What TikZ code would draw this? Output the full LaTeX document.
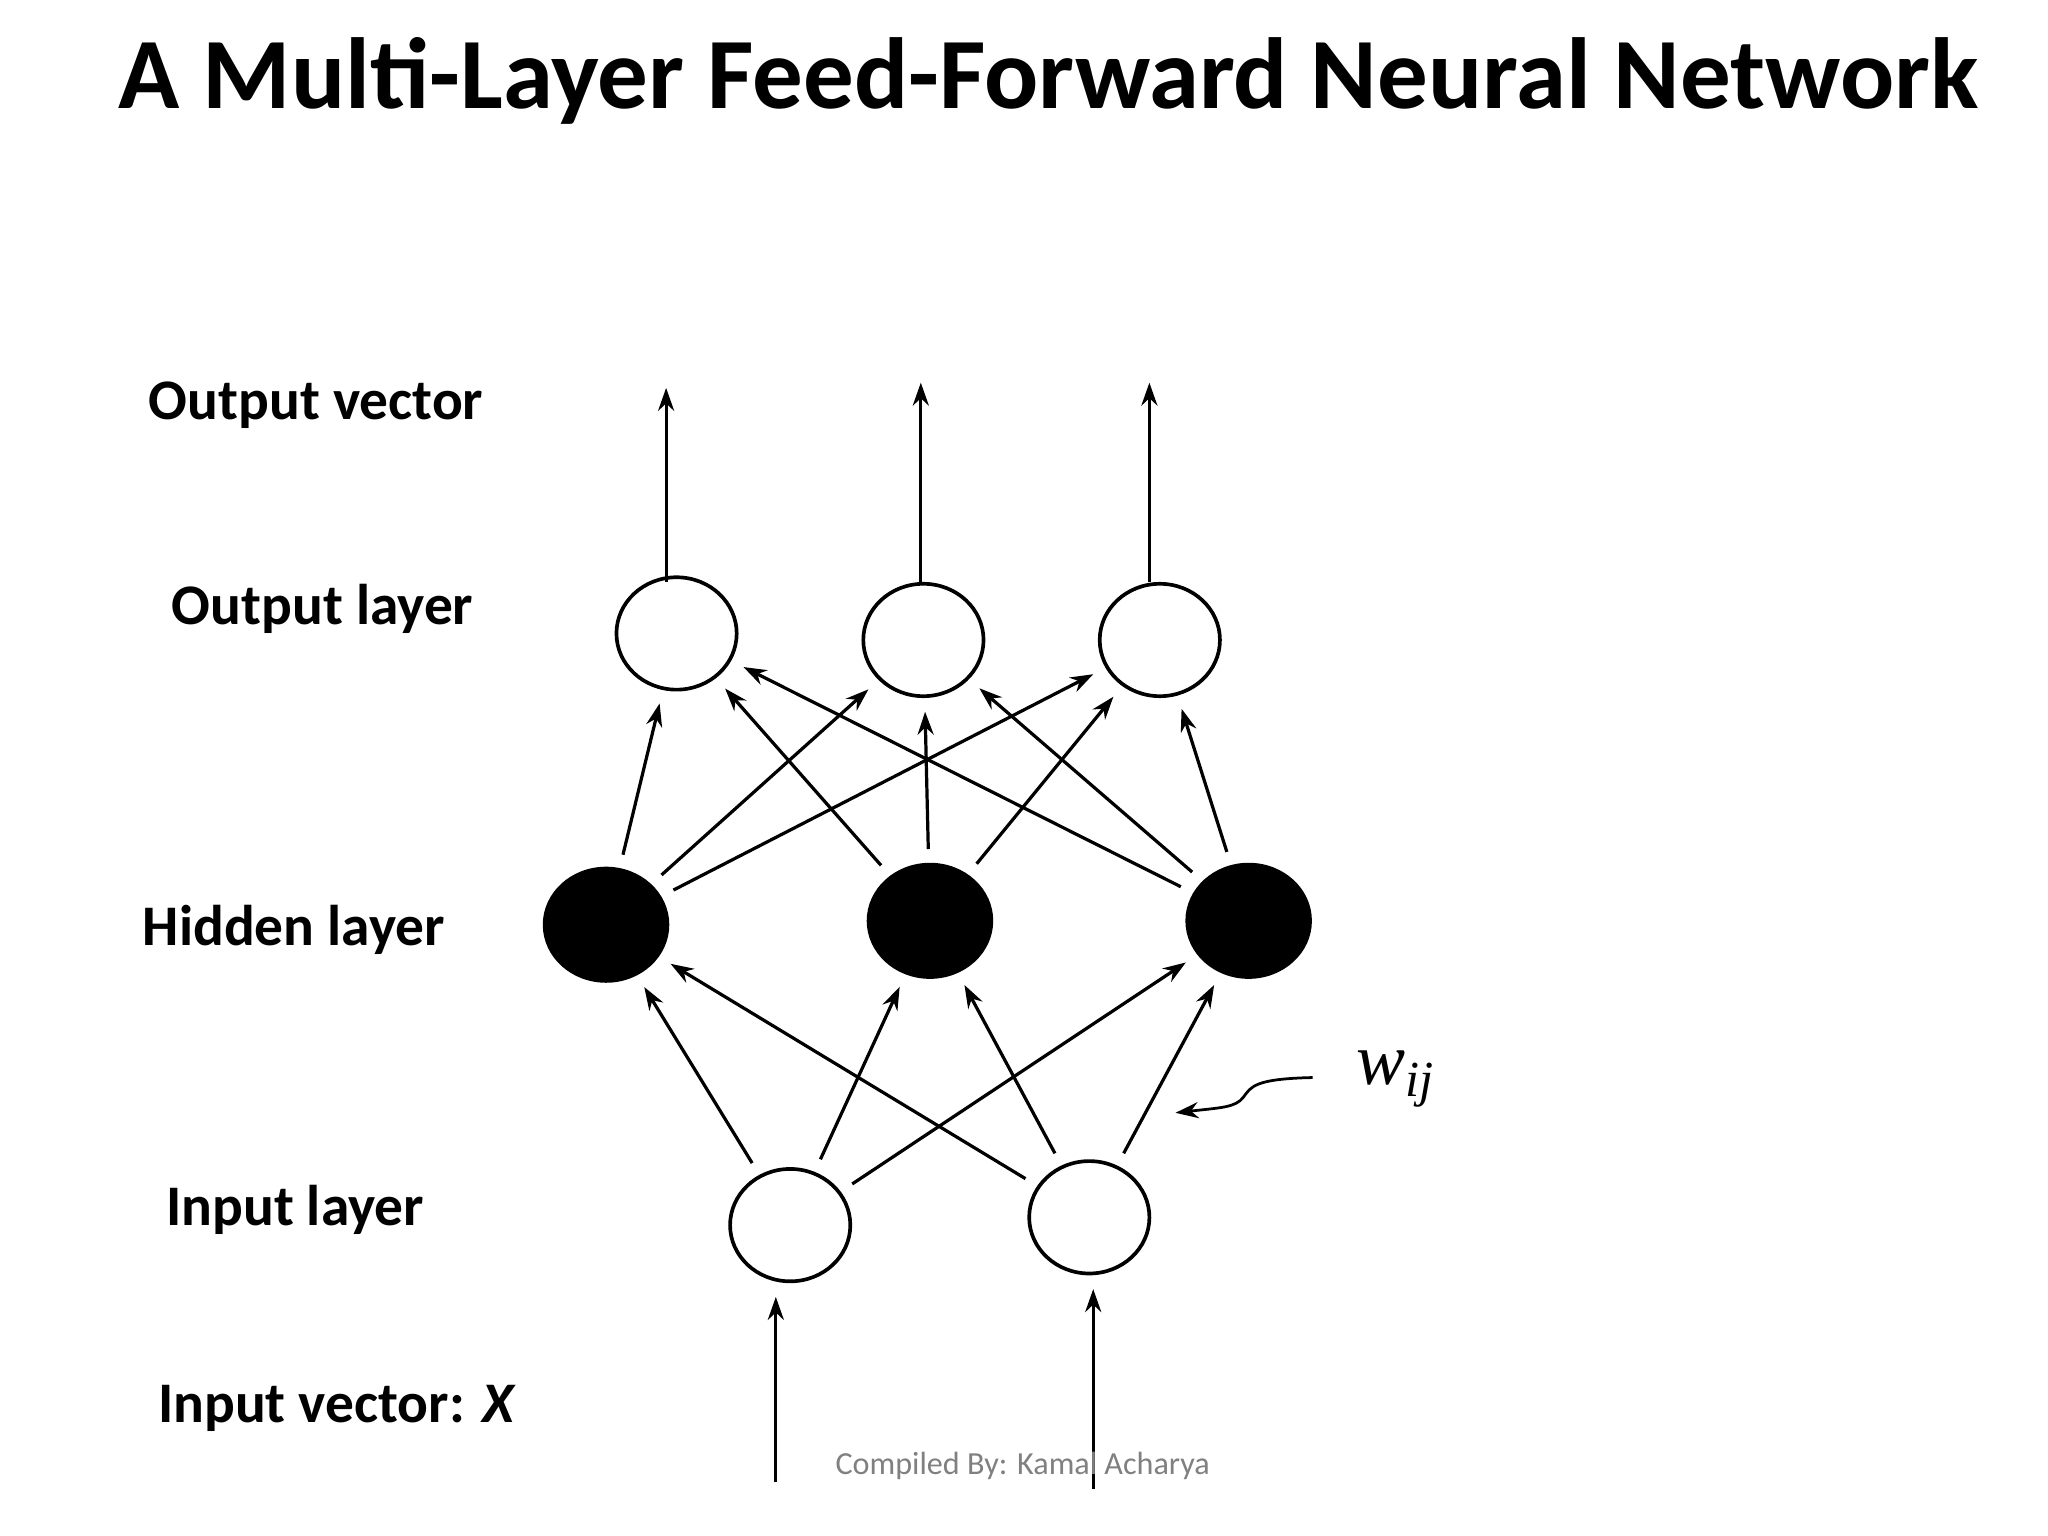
\documentclass[tikz,border=0pt]{standalone}
\usepackage{fontspec}
\setmainfont{Carlito}
\usetikzlibrary{shapes.geometric,arrows.meta}
\begin{document}
\begin{tikzpicture}[x=0.01cm,y=-0.01cm,
  neu/.style={ellipse,draw,line width=0.8pt,minimum width=0.92cm,minimum height=0.86cm,inner sep=0pt},
  hid/.style={neu,fill=black,minimum width=0.94cm,minimum height=0.86cm},
  con/.style={-{Stealth[length=5pt,width=3.5pt]},line width=0.7pt,shorten >=3pt,shorten <=3pt},
  lab/.style={font=\fontsize{12.5pt}{14pt}\selectfont\bfseries}]
\useasboundingbox (0,0) rectangle (1568,1176);
\node[font=\fontsize{22pt}{26pt}\selectfont\bfseries] (title) at (803,62) {A Multi-Layer Feed-Forward Neural Network};
\node[neu] (O1) at (518,485) {};
\node[neu] (O2) at (707,490) {};
\node[neu] (O3) at (888,490) {};
\node[hid] (H1) at (464,708) {};
\node[hid] (H2) at (712,705) {};
\node[hid] (H3) at (956,705) {};
\node[neu] (I1) at (605,938) {};
\node[neu] (I2) at (834,932) {};
\foreach \h in {H1,H2,H3}{\foreach \o in {O1,O2,O3}{\draw[con] (\h) -- (\o);}}
\foreach \i in {I1,I2}{\foreach \h in {H1,H2,H3}{\draw[con] (\i) -- (\h);}}
\coordinate (v1) at (510,297); \coordinate (v2) at (705,293); \coordinate (v3) at (880,293);
\draw[con,shorten <=0pt,shorten >=0pt] (O1.north) ++(-8,5) -- (v1);
\draw[con,shorten <=0pt,shorten >=0pt] (O2.north) ++(-2,0) -- (v2);
\draw[con,shorten <=0pt,shorten >=0pt] (O3.north) ++(-8,0) -- (v3);
\coordinate (x1) at (594,1135); \coordinate (x2) at (837,1140);
\draw[con,shorten <=0pt] (x1) -- (I1.south -| x1);
\draw[con,shorten <=0pt] (x2) -- (I2.south -| x2);
\node[font=\fontsize{16pt}{18pt}\selectfont\rmfamily] (w) at (1068,826) {\fontspec{Liberation Serif}\itshape w\raisebox{-0.35ex}{\fontsize{11pt}{12pt}\selectfont ij}};
\coordinate (wt) at (900,852);
\draw[-{Stealth[length=5pt,width=3.5pt]},line width=0.6pt] (1005,825) .. controls (960,826) and (958,832) .. (952,840) .. controls (946,848) and (935,848) .. (wt);
\node[lab] (lov) at (242,310) {Output vector};
\node[lab] (lol) at (247,466) {Output layer};
\node[lab] (lhl) at (225,712) {Hidden layer};
\node[lab] (lil) at (226,926) {Input layer};
\node[lab] (liv) at (258,1078) {Input vector: \textit{X}};
\node[font=\fontsize{7pt}{8pt}\selectfont,text=gray] (foot) at (783,1122) {Compiled By: Kamal Acharya};
\end{tikzpicture}
\end{document}
